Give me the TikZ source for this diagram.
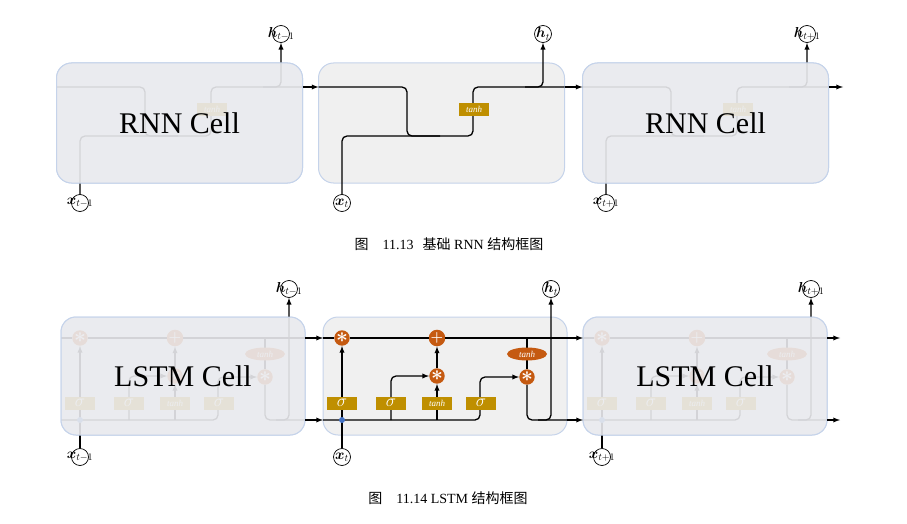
\documentclass[tikz,border=0pt]{standalone}
\usepackage{amsmath,amssymb}
\usepackage{fontspec}
\setmainfont{Liberation Serif}
\newfontfamily\cjk{Noto Sans CJK SC}
\usepackage{tikz}
\usetikzlibrary{shapes.geometric}
\definecolor{cellfill}{HTML}{F0F0F0}
\definecolor{cellline}{HTML}{C5D3EA}
\definecolor{fadefill}{HTML}{EAEBEF}
\definecolor{gold}{HTML}{BF8F00}
\definecolor{rust}{HTML}{C55A11}
\definecolor{dotblue}{HTML}{4472C4}

\begin{document}
\begin{tikzpicture}[x=1pt,y=-1pt,
    cell_box/.style={draw=cellline, line width=1pt, fill=cellfill, rounded corners=15pt, inner sep=0},
    fade_box/.style={draw=cellline, line width=1pt, fill=fadefill, fill opacity=0.9, text opacity=1, rounded corners=15pt, inner sep=0, font=\fontsize{30}{30}\selectfont},
    gate_node/.style={fill=gold, minimum width=30pt, minimum height=13pt, inner sep=0, text=white, font=\fontsize{9}{9}\selectfont\itshape},
    op_node/.style={circle, fill=rust, minimum size=15pt, inner sep=0, text=white, font=\fontsize{20}{20}\selectfont},
    io_node/.style={circle, draw, fill=white, line width=0.7pt, minimum size=17pt, inner sep=0, font=\fontsize{14}{14}\selectfont},
    wire/.style={line width=1.3pt, rounded corners=5pt},
    arr/.style={wire, -latex}]

    \useasboundingbox (0,0) rectangle (907,524);

    % RNN
    \foreach \s/\k/\sub in {-262/a/{t-1},0/b/t,264/c/{t+1}}{
    \begin{scope}[xshift=\s]
    \node[cell_box, minimum width=246pt, minimum height=120pt] (rbox\k) at (441.5,123) {};
    \coordinate (rin\k) at (318.5,87);
    \coordinate (rout\k) at (564.5,87);
    \node[io_node] (rx\k) at (342,203) {\makebox[0pt]{$\boldsymbol{x}_{\sub}$}};
    \node[io_node] (rh\k) at (543,34) {\makebox[0pt]{$\boldsymbol{h}_{\sub}$}};

    \draw[wire] (rin\k) -- (407,87) -- (407,136) -- (440,136);
    \draw[wire] (rx\k) -- (342,136) -- (473,136) -- (473,87) -- (rout\k);
    \draw[arr] (525,87) -- (543,87) -- (rh\k);
    \node[gate_node] (rg\k) at (474,109.5) {tanh};
    \end{scope}
    }
    \node[fade_box, minimum width=246pt, minimum height=120pt] (rfa) at (rboxa.center) {RNN Cell};
    \node[fade_box, minimum width=246pt, minimum height=120pt] (rfc) at (rboxc.center) {RNN Cell};
    \coordinate (rend) at (843,87);
    \draw[arr] (routa) -- (rinb);
    \draw[arr] (routb) -- (rinc);
    \draw[arr] (routc) -- (rend);

    % LSTM
    \foreach \s/\k/\sub in {-262/a/{t-1},0/b/t,260/c/{t+1}}{
    \begin{scope}[xshift=\s]
    \node[cell_box, minimum width=244pt, minimum height=118pt] (lbox\k) at (445,376) {};
    \coordinate (cin\k) at (323,338);
    \coordinate (cout\k) at (567,338);
    \coordinate (hin\k) at (323,420);
    \coordinate (hout\k) at (567,420);
    \node[op_node] (m1\k) at (342,338) {$\boldsymbol{\ast}$};
    \node[op_node] (pl\k) at (437,338) {\fontsize{15}{15}\selectfont$\boldsymbol{+}$};
    \node[op_node] (m2\k) at (437,376) {$\boldsymbol{\ast}$};
    \node[op_node] (m3\k) at (527,377) {$\boldsymbol{\ast}$};
    \node[io_node] (lx\k) at (342,457) {\makebox[0pt]{$\boldsymbol{x}_{\sub}$}};
    \node[io_node] (lh\k) at (551,289) {\makebox[0pt]{$\boldsymbol{h}_{\sub}$}};

    \draw[wire] (cin\k) -- (m1\k) -- (pl\k) -- (cout\k);
    \draw[arr] (lx\k) -- (m1\k);
    \draw[arr] (hin\k) -- (480,420) -- (480,377) -- (m3\k);
    \draw[arr] (391,420) -- (391,376) -- (m2\k);
    \draw[arr] (437,420) -- (m2\k);
    \draw[arr] (m2\k) -- (pl\k);
    \draw[wire] (527,338) -- (m3\k);
    \draw[wire] (m3\k) -- (527,420) -- (hout\k);
    \draw[arr] (538,420) -- (551,420) -- (lh\k);

    \node[ellipse, fill=rust, minimum width=40pt, minimum height=13pt, inner sep=0, text=white, font=\fontsize{9}{9}\selectfont\itshape] (th\k) at (527,354) {tanh};
    \node[circle, fill=dotblue, minimum size=6pt, inner sep=0] (bd\k) at (342,420) {};
    \node[gate_node] (g1\k) at (342,403) {\fontsize{19}{19}\selectfont$\sigma$};
    \node[gate_node] (g2\k) at (391,403) {\fontsize{19}{19}\selectfont$\sigma$};
    \node[gate_node] (g3\k) at (437,403) {tanh};
    \node[gate_node] (g4\k) at (481,403) {\fontsize{19}{19}\selectfont$\sigma$};
    \end{scope}
    }
    \node[fade_box, minimum width=244pt, minimum height=118pt] (lfa) at (lboxa.center) {LSTM Cell};
    \node[fade_box, minimum width=244pt, minimum height=118pt] (lfc) at (lboxc.center) {LSTM Cell};
    \coordinate (cend) at (840,338);
    \coordinate (hend) at (840,420);
    \draw[arr] (couta) -- (cinb);
    \draw[arr] (coutb) -- (cinc);
    \draw[arr] (coutc) -- (cend);
    \draw[arr] (houta) -- (hinb);
    \draw[arr] (houtb) -- (hinc);
    \draw[arr] (houtc) -- (hend);

    % captions
    \node[font=\fontsize{14}{16}\selectfont] (cap1) at (449,244) {{\cjk 图}\hspace{14pt}11.13\hspace{9pt}{\cjk 基础} RNN {\cjk 结构框图}};
    \node[font=\fontsize{14}{16}\selectfont] (cap2) at (448,498) {{\cjk 图}\hspace{14pt}11.14 LSTM {\cjk 结构框图}};

\end{tikzpicture}
\end{document}
